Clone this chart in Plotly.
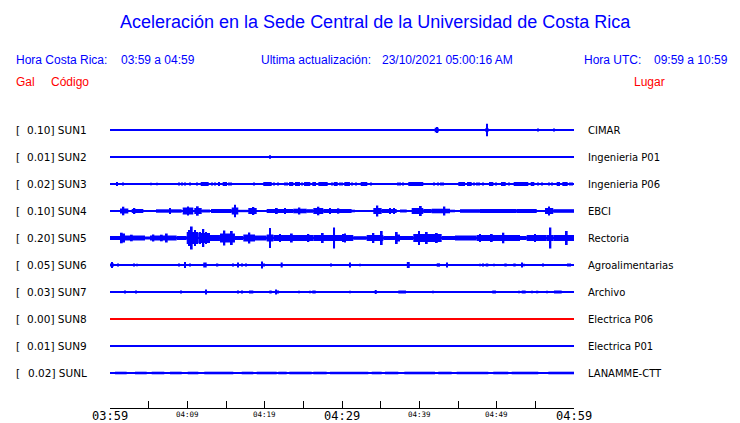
import plotly.graph_objects as go

# ---------------- data ----------------
stations = ["SUN1", "SUN2", "SUN3", "SUN4", "SUN5", "SUN6", "SUN7", "SUN8", "SUN9", "SUNL"]
gal = ["0.10", "0.01", "0.02", "0.10", "0.20", "0.05", "0.03", "0.00", "0.01", "0.02"]
places = ["CIMAR", "Ingenieria P01", "Ingenieria P06", "EBCI", "Rectoria",
          "Agroalimentarias", "Archivo", "Electrica P06", "Electrica P01", "LANAMME-CTT"]
inactive = ["SUN8"]

tick_minutes = list(range(0, 61, 5))
major_ticks = {0: "03:59", 30: "04:29", 60: "04:59"}
minor_ticks = {10: "04:09", 20: "04:19", 40: "04:39", 50: "04:49"}

# envelope events per station: (start minute, end minute, half amplitude; 27 units = one row)
SUN1_EV = [(41.99, 42.50, 2.3), (42.18, 42.30, 3.0), (48.55, 48.94, 2.0), (48.70, 48.80, 6.3),
           (55.34, 55.34, 1.5), (57.41, 57.41, 1.5)]
SUN2_EV = [(20.73, 20.73, 1.7)]
SUN3_EV = [(0.94, 0.94, 2), (1.72, 1.72, 1.5), (5.34, 5.34, 1.3), (6.12, 6.12, 1.3), (8.88, 8.88, 1.5),
           (9.35, 9.35, 1.5), (9.74, 9.74, 1.5), (10.38, 10.38, 1.5), (11.29, 11.29, 1.5), (11.73, 12.76, 2),
           (13.15, 13.15, 1.5), (13.58, 13.58, 1.5), (13.97, 14.16, 2), (14.57, 15.13, 2), (15.39, 15.39, 1.5),
           (15.65, 15.65, 1.5), (17.75, 17.75, 1), (18.58, 18.58, 1.5), (18.97, 18.97, 1), (19.18, 19.18, 1),
           (19.82, 20.91, 2), (21.17, 21.17, 1.5), (21.69, 21.69, 1.5), (22.63, 22.63, 1.5), (22.89, 22.89, 1.5),
           (23.15, 23.70, 2), (23.92, 24.57, 2), (24.79, 24.79, 1.5), (25.09, 25.90, 2), (26.16, 26.64, 2),
           (26.94, 28.15, 2), (28.67, 28.67, 1.5), (28.93, 29.44, 2), (29.74, 29.74, 1.5), (30.04, 30.04, 1.5),
           (30.30, 31.03, 2), (31.25, 31.25, 1.5), (31.77, 31.77, 1.5), (32.42, 33.27, 2), (33.75, 33.75, 1.5),
           (34.82, 34.82, 1), (35.60, 35.60, 1), (37.28, 37.28, 1.5), (37.50, 37.50, 1.5), (37.85, 37.85, 1.5),
           (38.57, 40.51, 2), (41.90, 41.90, 1.5), (42.45, 42.45, 1.5), (42.76, 42.76, 1.5), (43.10, 43.10, 1.5),
           (44.06, 44.06, 1), (45.04, 45.91, 2), (46.16, 46.77, 2), (47.07, 47.07, 1.5), (47.42, 47.42, 1.5),
           (47.75, 47.75, 1.5), (48.27, 48.27, 1.5), (49.01, 49.57, 2), (49.88, 49.88, 1.5), (50.56, 51.17, 2),
           (51.59, 51.59, 1.5), (52.20, 54.09, 2), (54.40, 54.87, 2), (55.38, 55.38, 1.5), (55.90, 55.90, 1.5),
           (56.77, 56.77, 1.5), (57.15, 57.15, 1.5), (57.76, 58.19, 2), (58.49, 59.18, 2), (59.48, 59.48, 1.5),
           (59.78, 59.78, 1.5)]
SUN4_EV = [(0.00, 1.29, 1), (1.29, 2.37, 2.5), (2.81, 4.31, 2), (5.95, 9.27, 1.7), (9.40, 10.77, 3.5),
           (10.90, 11.86, 3), (11.86, 12.93, 1.5), (13.06, 15.74, 2), (15.74, 16.59, 3.5), (16.59, 17.88, 1.2),
           (17.88, 18.97, 3), (18.97, 20.26, 1), (20.26, 23.70, 2), (23.70, 25.44, 2.3), (25.44, 26.29, 1.8),
           (26.29, 27.58, 3), (27.58, 31.25, 2), (31.25, 31.68, 1.3), (32.75, 32.75, 1), (34.05, 35.13, 3),
           (35.13, 37.07, 2), (37.50, 38.37, 1.5), (39.01, 40.51, 3), (40.51, 41.60, 2), (41.60, 43.97, 2.3),
           (43.97, 44.61, 1.3), (45.26, 47.84, 1.8), (47.84, 52.59, 2), (52.59, 55.18, 2), (56.25, 57.32, 3),
           (57.32, 60.00, 1.8),
           (1.60, 1.85, 4.3), (3.02, 3.27, 3), (7.64, 7.89, 3), (9.97, 10.22, 4.5), (11.22, 11.47, 4.7),
           (16.04, 16.29, 6.3), (18.41, 18.66, 4), (21.44, 21.69, 3), (22.51, 22.76, 3), (24.36, 24.61, 3.5),
           (26.82, 27.07, 4.3), (28.33, 28.58, 3), (29.40, 29.65, 2.7), (34.44, 34.69, 5.5), (36.09, 36.34, 3),
           (36.60, 36.85, 3), (40.06, 40.31, 5), (43.11, 43.36, 4.5), (56.65, 56.90, 4.5)]
SUN5_EV = [(0.00, 1.29, 2), (1.29, 1.94, 4.5), (1.94, 4.53, 2.5), (4.53, 5.17, 1.5), (5.17, 8.62, 2.5),
           (8.62, 9.92, 2), (9.92, 11.42, 6), (11.42, 12.93, 5), (12.93, 14.22, 3), (14.22, 16.16, 4.5),
           (16.16, 17.24, 2), (17.24, 18.75, 3.5), (18.75, 20.26, 2.5), (20.26, 21.12, 3.5), (21.12, 24.57, 3),
           (24.57, 26.29, 3), (26.29, 28.87, 3), (28.87, 31.46, 3), (31.46, 33.19, 1.8), (33.19, 35.34, 3),
           (35.34, 36.85, 2), (36.85, 37.50, 3.5), (37.50, 39.22, 2), (39.22, 42.89, 4), (42.89, 44.61, 2),
           (44.61, 47.42, 2.5), (47.42, 50.43, 3), (50.43, 53.02, 3), (53.02, 53.88, 2), (53.88, 56.47, 3),
           (56.47, 57.32, 3), (57.32, 60.00, 3),
           (1.39, 1.64, 5.3), (2.69, 2.94, 3.3), (5.48, 5.73, 3.5), (6.57, 6.82, 3.3), (7.21, 7.46, 4.5),
           (10.09, 10.34, 8), (10.44, 10.69, 11.5), (10.87, 11.12, 8), (11.52, 11.77, 6), (11.94, 12.19, 9),
           (12.29, 12.54, 6), (14.66, 14.91, 7.5), (15.62, 15.87, 7), (17.89, 18.14, 5.5), (20.57, 20.82, 10),
           (21.86, 22.11, 4), (23.38, 23.63, 4.5), (25.52, 25.77, 4), (27.38, 27.63, 5), (28.85, 29.10, 10.5),
           (30.05, 30.30, 4), (30.27, 30.52, 4.5), (33.93, 34.18, 5), (35.01, 35.26, 7), (36.95, 37.20, 6),
           (39.84, 40.09, 7), (40.83, 41.08, 6), (42.13, 42.38, 5), (47.72, 47.97, 4), (49.24, 49.49, 4),
           (50.74, 50.99, 5.3), (54.84, 55.09, 4), (56.82, 57.07, 10.5), (58.93, 59.18, 7)]
SUN6_EV = [(0.00, 0.52, 1.5), (0.24, 0.36, 3), (0.94, 1.06, 1.5), (3.00, 3.12, 1.5), (3.53, 3.53, 1.3),
           (6.81, 6.81, 1), (8.86, 8.98, 1.5), (9.74, 9.74, 3), (10.32, 10.44, 1.5), (12.06, 12.50, 2.5),
           (12.80, 12.80, 1), (13.80, 14.00, 1.5), (15.81, 15.93, 1.5), (16.59, 16.59, 2.5), (17.03, 17.03, 1.5),
           (17.55, 17.55, 1.5), (19.40, 19.40, 1), (19.62, 19.62, 3.5), (19.87, 19.87, 1.5), (22.07, 22.33, 2.5),
           (23.31, 23.31, 0.7), (28.52, 28.64, 1.5), (30.90, 31.16, 2.5), (32.33, 32.33, 1.3), (34.82, 34.82, 0.7),
           (38.38, 38.76, 3), (42.25, 42.67, 1.7), (43.32, 43.32, 1), (43.62, 43.62, 2.5), (47.84, 47.84, 1.3),
           (48.27, 48.27, 1.5), (48.58, 48.92, 1.5), (49.66, 49.66, 1.3), (50.34, 50.34, 1), (50.99, 51.30, 1.5),
           (52.15, 52.46, 1.5), (52.89, 52.89, 1), (53.24, 53.24, 2.5), (53.57, 53.57, 1.3), (55.95, 55.95, 1.5),
           (58.54, 58.54, 1), (59.18, 59.18, 1.5), (59.44, 59.44, 1.5)]
SUN7_EV = [(1.81, 2.07, 1.5), (2.88, 2.88, 0.7), (3.30, 3.42, 1.5), (3.79, 3.79, 0.7), (8.19, 8.19, 0.7),
           (9.18, 9.18, 1.5), (12.28, 12.54, 2.5), (16.45, 16.57, 1.5), (17.11, 17.11, 1.5), (17.75, 17.75, 0.7),
           (17.97, 18.53, 1.5), (19.62, 19.62, 1), (20.60, 20.91, 1.5), (21.34, 21.60, 2.5), (21.69, 21.69, 1.5),
           (23.50, 23.50, 1), (24.44, 24.44, 1.3), (25.12, 25.12, 0.7), (25.82, 25.82, 1.3), (26.16, 26.60, 1.5),
           (26.86, 26.86, 1), (27.16, 27.16, 0.7), (27.80, 27.80, 0.7), (28.49, 28.49, 1), (29.09, 29.09, 1),
           (29.74, 29.74, 1), (30.97, 31.09, 1.3), (32.55, 32.55, 0.7), (33.49, 33.49, 1), (34.23, 34.49, 2),
           (34.82, 34.82, 0.7), (37.28, 38.28, 1.5), (38.57, 38.57, 1), (41.73, 41.73, 1.3), (48.71, 48.71, 0.7),
           (49.43, 49.91, 1.5), (50.86, 50.86, 1), (52.59, 52.59, 1), (52.89, 52.89, 1.3), (53.24, 53.75, 1.5),
           (54.18, 54.18, 1), (54.61, 54.61, 1.3), (55.09, 55.38, 1.3), (56.47, 56.47, 1.3), (57.41, 58.41, 1.5),
           (59.05, 59.05, 1)]
SUN8_EV = []
SUN9_EV = [(39.22, 39.22, 0.7)]
SUNL_EV = [(0.00, 0.65, 1), (0.65, 2.16, 1.3), (3.23, 4.75, 1.3), (5.39, 7.02, 1.3), (7.76, 9.27, 1.3),
           (10.05, 11.42, 1.3), (12.19, 15.94, 1.3), (17.03, 18.53, 1.3), (18.97, 21.56, 1.3), (21.76, 22.85, 1.3),
           (23.19, 26.08, 1.3), (26.29, 28.02, 1.3), (28.45, 33.40, 1.3), (33.84, 35.13, 1.3), (35.56, 37.28, 1.3),
           (38.06, 42.03, 1.3), (42.45, 44.18, 1.3), (44.83, 48.92, 1.3), (49.56, 51.50, 1.3), (51.94, 55.38, 1.3),
           (56.68, 60.00, 1.3)]

events = [SUN1_EV, SUN2_EV, SUN3_EV, SUN4_EV, SUN5_EV, SUN6_EV, SUN7_EV, SUN8_EV, SUN9_EV, SUNL_EV]

# ---------------- styling ----------------
BLUE = "rgb(0,0,255)"
RED = "rgb(255,0,0)"
ROW_UNITS = 27.0
MIN_W = 0.15
HEAD_FONT = "Liberation Sans, Arial, sans-serif"
LAB_FONT = "DejaVu Sans, sans-serif"
MONO = "DejaVu Sans Mono, monospace"

# the page body adds an 8px offset; figure is sized so that it ends at the window edge
OFF = 8
W, H = 740 - OFF, 423 - OFF
L, R, T, B = 110 - OFF, 166, 103 - OFF, 15
pw, ph = W - L - R, H - T - B

fig = go.Figure()
for i, (st, ev) in enumerate(zip(stations, events)):
    col = RED if st in inactive else BLUE
    fig.add_trace(go.Scatter(x=[tick_minutes[0], tick_minutes[-1]], y=[i, i], mode="lines",
                             line=dict(color=col, width=2), hoverinfo="skip", showlegend=False))
    if ev:
        xs, ws, bs, hs = [], [], [], []
        for t0, t1, a in ev:
            w = max(t1 - t0, MIN_W)
            xs.append((t0 + t1) / 2)
            ws.append(w)
            h = a / ROW_UNITS
            bs.append(i - h)
            hs.append(2 * h)
        fig.add_trace(go.Bar(x=xs, y=hs, base=bs, width=ws, marker=dict(color=col, line=dict(width=0)),
                             hoverinfo="skip", showlegend=False))


def px_x(p):  # reference-window pixel -> paper x
    return (p - OFF - L) / pw


def px_y(p):  # reference-window pixel -> paper y
    return (H - B - (p - OFF)) / ph


ann = []


def add(text, x, y, color, size, font, xanchor="left", yref="paper", xref="paper"):
    ann.append(dict(text=text, x=x, y=y, xref=xref, yref=yref, xanchor=xanchor, yanchor="middle",
                    showarrow=False, font=dict(color=color, size=size, family=font)))


add("Aceleración en la Sede Central de la Universidad de Costa Rica", px_x(375), px_y(22), BLUE, 18, HEAD_FONT, "center")
add("Hora Costa Rica:", px_x(14), px_y(60), BLUE, 12, HEAD_FONT)
add("03:59 a 04:59", px_x(119), px_y(60), BLUE, 12, HEAD_FONT)
add("Ultima actualización:", px_x(259), px_y(60), BLUE, 12, HEAD_FONT)
add("23/10/2021 05:00:16 AM", px_x(380), px_y(60), BLUE, 12, HEAD_FONT)
add("Hora UTC:", px_x(582), px_y(60), BLUE, 12, HEAD_FONT)
add("09:59 a 10:59", px_x(652), px_y(60), BLUE, 12, HEAD_FONT)
add("Gal", px_x(14), px_y(82), RED, 12, HEAD_FONT)
add("Código", px_x(49), px_y(82), RED, 12, HEAD_FONT)
add("Lugar", px_x(632), px_y(82), RED, 12, HEAD_FONT)

for i, (st, g, pl) in enumerate(zip(stations, gal, places)):
    add("[", px_x(14), i, "black", 10.5, LAB_FONT, "left", "y")
    add(f"{g}] {st}", px_x(89), i, "black", 10.5, LAB_FONT, "right", "y")
    add(pl, px_x(586), i, "black", 10, LAB_FONT, "left", "y")

# time labels under the axis (placed at their tick minutes)
for t, lab in major_ticks.items():
    add(lab, t, px_y(416), "black", 12, MONO, "center", "paper", "x")
for t, lab in minor_ticks.items():
    add(lab, t, px_y(414), "black", 7.5, MONO, "center", "paper", "x")

fig.update_layout(
    width=W, height=H, margin=dict(l=L, r=R, t=T, b=B, autoexpand=False),
    paper_bgcolor="white", plot_bgcolor="white", showlegend=False, hovermode=False,
    barmode="overlay", annotations=ann,
    xaxis=dict(range=[0, 60], showgrid=False, zeroline=False, showline=True, linecolor="black", linewidth=1,
               ticks="inside", ticklen=7, tickcolor="black", tickwidth=1,
               tickvals=tick_minutes, showticklabels=False, automargin=False, fixedrange=True),
    yaxis=dict(range=[(H - B - (130 - OFF)) / ROW_UNITS, -1], visible=False, fixedrange=True),
)

fig.write_html("out.html")
